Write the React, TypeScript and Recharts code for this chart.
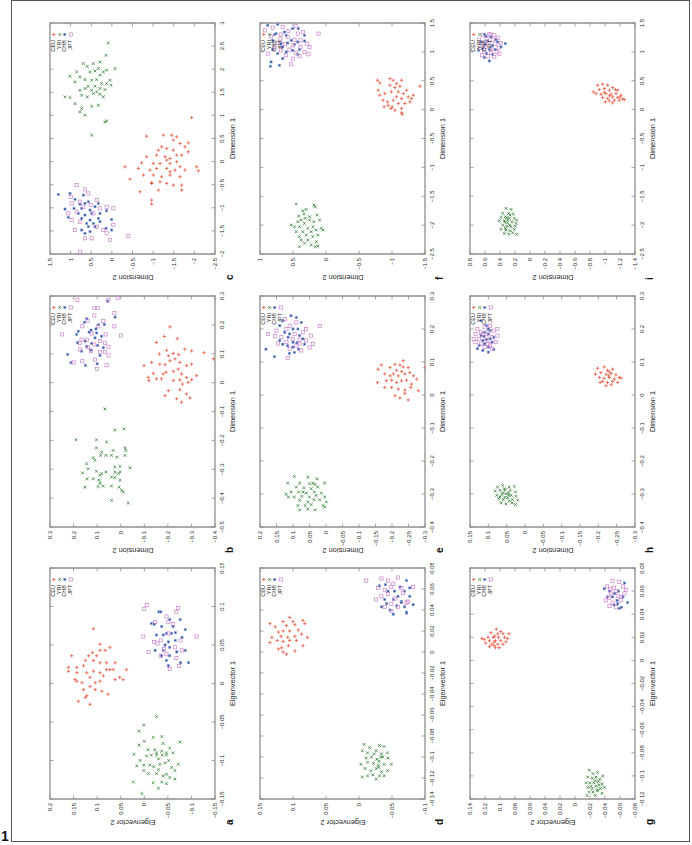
import React from "react";
import { ScatterChart, Scatter, XAxis, YAxis, ReferenceArea } from "recharts";

type Pt = [number, number];

// each point is [dimension 1 / eigenvector 1, dimension 2 / eigenvector 2]

// panel a
const aXTicks = [-0.15, -0.1, -0.05, 0, 0.05, 0.1, 0.15];
const aYTicks = [-0.15, -0.1, -0.05, 0, 0.05, 0.1, 0.15, 0.2];
const aCEU: Pt[] = [[0.071,0.108],[0.051,0.094],[0.047,0.073],[0.036,0.154],[0.036,0.118],[0.036,0.101],[0.043,0.094],[0.043,0.083],[0.027,0.062],[0.021,0.161],[0.021,0.143],[0.023,0.129],[0.03,0.108],[0.027,0.094],[0.027,0.08],[0.008,0.052],[0.018,0.038],[0.014,0.143],[0.014,0.122],[0.016,0.108],[0.014,0.094],[0.018,0.08],[0.018,0.066],[0.001,0.132],[0.008,0.115],[0.001,0.104],[0.003,0.094],[0.01,0.087],[0.003,0.143],[-0.008,0.129],[-0.004,0.115],[-0.008,0.104],[0.005,0.147],[0.005,0.062],[0.005,0.045],[-0.016,0.122],[-0.018,0.125],[-0.014,0.077],[-0.023,0.14],[-0.027,0.115],[0.018,0.073],[0.016,0.161],[0.03,0.125],[-0.01,0.09],[0.04,0.11]];
const aYRI: Pt[] = [[-0.043,-0.026],[-0.054,0.001],[-0.062,0.011],[-0.075,0.0],[-0.07,-0.019],[-0.069,-0.037],[-0.078,-0.04],[-0.076,-0.076],[-0.08,0.011],[-0.086,-0.008],[-0.086,-0.022],[-0.09,-0.026],[-0.088,-0.037],[-0.09,-0.047],[-0.084,-0.054],[-0.092,0.022],[-0.1,0.009],[-0.094,-0.005],[-0.093,-0.015],[-0.093,-0.026],[-0.093,-0.038],[-0.093,-0.047],[-0.09,-0.061],[-0.105,-0.072],[-0.107,0.016],[-0.106,0.001],[-0.106,-0.012],[-0.108,-0.02],[-0.105,-0.033],[-0.103,-0.044],[-0.109,-0.058],[-0.113,0.001],[-0.117,-0.009],[-0.117,-0.026],[-0.118,-0.047],[-0.122,-0.054],[-0.113,-0.065],[-0.128,0.023],[-0.129,-0.019],[-0.128,-0.037],[-0.13,-0.047],[-0.143,0.005],[-0.124,-0.065],[-0.098,-0.03],[-0.112,-0.03],[-0.1,-0.052],[-0.12,-0.04],[-0.136,-0.03]];
const aCHB: Pt[] = [[0.093,-0.031],[0.093,-0.035],[0.078,-0.015],[0.077,-0.021],[0.074,-0.037],[0.083,-0.054],[0.074,-0.061],[0.083,-0.076],[0.07,-0.087],[0.066,-0.066],[0.065,-0.047],[0.065,-0.058],[0.063,-0.026],[0.063,-0.04],[0.06,-0.08],[0.056,-0.066],[0.054,-0.051],[0.043,-0.023],[0.043,-0.04],[0.047,-0.054],[0.043,-0.087],[0.041,-0.069],[0.036,-0.037],[0.036,-0.054],[0.03,-0.047],[0.027,-0.077],[0.027,-0.094],[0.023,-0.051],[0.05,-0.044]];
const aJPT: Pt[] = [[0.102,-0.005],[0.098,-0.072],[0.097,0.0],[0.093,-0.068],[0.087,-0.047],[0.061,-0.111],[0.08,-0.051],[0.061,0.002],[0.041,-0.009],[0.077,-0.061],[0.065,-0.051],[0.056,-0.035],[0.052,-0.028],[0.045,-0.042],[0.056,-0.077],[0.038,-0.047],[0.047,-0.065],[0.033,-0.068],[0.043,-0.08],[0.023,-0.074],[0.019,-0.054],[0.036,-0.035],[0.054,-0.021],[0.08,-0.023]];

// panel b
const bXTicks = [-0.5, -0.4, -0.3, -0.2, -0.1, 0, 0.1, 0.2, 0.3];
const bYTicks = [-0.4, -0.3, -0.2, -0.1, 0, 0.1, 0.2, 0.3];
const bCEU: Pt[] = [[0.139,-0.152],[0.112,-0.195],[0.101,-0.223],[0.097,-0.246],[0.116,-0.272],[0.11,-0.301],[0.099,-0.164],[0.093,-0.202],[0.064,-0.166],[0.062,-0.188],[0.076,-0.209],[0.082,-0.23],[0.07,-0.251],[0.059,-0.279],[0.064,-0.301],[0.104,-0.353],[0.082,-0.393],[0.059,-0.099],[0.07,-0.131],[0.018,-0.117],[0.007,-0.12],[0.013,-0.152],[0.03,-0.18],[0.036,-0.192],[0.039,-0.223],[0.047,-0.244],[0.03,-0.258],[0.018,-0.279],[0.007,-0.223],[0.009,-0.251],[-0.005,-0.262],[0.001,-0.286],[0.01,-0.301],[0.024,-0.322],[-0.025,-0.251],[-0.028,-0.202],[-0.039,-0.279],[-0.056,-0.237],[-0.068,-0.258],[-0.053,-0.294],[-0.045,-0.188],[0.013,-0.173],[0.032,-0.138],[0.193,-0.209],[0.16,-0.185],[0.152,-0.24]];
const bYRI: Pt[] = [[-0.091,0.067],[-0.16,-0.014],[-0.164,0.025],[-0.198,0.19],[-0.198,0.103],[-0.206,0.06],[-0.226,-0.018],[-0.235,-0.022],[-0.226,0.103],[-0.241,0.081],[-0.235,0.032],[-0.26,0.117],[-0.252,0.085],[-0.252,0.063],[-0.252,0.039],[-0.258,0.017],[-0.252,-0.018],[-0.281,0.145],[-0.269,0.11],[-0.292,0.025],[-0.29,0.003],[-0.295,-0.039],[-0.313,0.162],[-0.298,0.138],[-0.307,0.103],[-0.315,0.081],[-0.31,0.063],[-0.31,0.025],[-0.315,0.01],[-0.31,0.003],[-0.333,0.142],[-0.333,0.117],[-0.321,0.088],[-0.327,0.039],[-0.329,0.025],[-0.338,0.003],[-0.362,0.152],[-0.338,0.092],[-0.348,0.088],[-0.358,0.074],[-0.358,0.039],[-0.362,0.007],[-0.373,-0.004],[-0.36,0.096],[-0.379,-0.011],[-0.408,0.039],[-0.417,-0.032]];
const bCHB: Pt[] = [[0.282,0.055],[0.227,0.024],[0.221,0.144],[0.209,0.154],[0.201,0.095],[0.201,0.07],[0.182,0.126],[0.186,0.105],[0.178,0.18],[0.175,0.134],[0.172,0.102],[0.167,0.187],[0.161,0.081],[0.155,0.109],[0.144,0.151],[0.138,0.183],[0.136,0.123],[0.129,0.098],[0.126,0.144],[0.121,0.074],[0.113,0.126],[0.098,0.225],[0.109,0.166],[0.094,0.088],[0.069,0.211],[0.065,0.1],[0.06,0.15]];
const bJPT: Pt[] = [[0.287,0.184],[0.287,0.052],[0.293,0.013],[0.259,0.112],[0.259,0.098],[0.241,0.027],[0.232,0.112],[0.215,0.14],[0.213,0.074],[0.195,0.163],[0.195,0.095],[0.195,0.027],[0.167,0.25],[0.17,0.123],[0.167,0.064],[0.163,-0.001],[0.149,0.166],[0.149,0.144],[0.144,0.088],[0.138,0.173],[0.132,0.112],[0.138,0.067],[0.123,0.14],[0.124,0.052],[0.109,0.126],[0.106,0.088],[0.106,0.067],[0.115,0.173],[0.094,0.052],[0.08,0.109],[0.074,0.163],[0.07,0.2],[0.047,0.1],[0.06,0.06]];

// panel c
const cXTicks = [-2, -1.5, -1, -0.5, 0, 0.5, 1, 1.5, 2, 2.5, 3];
const cYTicks = [-2.5, -2, -1.5, -1, -0.5, 0, 0.5, 1, 1.5];
const cCEU: Pt[] = [[0.954,-1.934],[0.55,-0.843],[0.572,-1.247],[0.572,-1.45],[0.536,-1.571],[0.32,-1.207],[0.464,-1.49],[0.406,-1.853],[0.392,-1.652],[0.248,-1.126],[0.284,-1.328],[0.248,-1.49],[0.14,-1.571],[0.068,-1.409],[0.14,-1.692],[0.32,-1.773],[0.212,-1.853],[0.104,-0.843],[0.14,-1.086],[0.104,-1.288],[-0.026,-0.722],[-0.04,-1.005],[-0.04,-1.167],[-0.04,-1.409],[-0.004,-1.571],[-0.112,-1.652],[-0.112,-2.056],[-0.199,-2.096],[-0.112,-0.318],[-0.148,-0.641],[-0.184,-0.924],[-0.148,-1.086],[-0.148,-1.328],[-0.184,-1.53],[-0.184,-1.773],[-0.379,-0.439],[-0.292,-0.763],[-0.292,-1.005],[-0.329,-1.207],[-0.292,-1.409],[-0.329,-1.652],[-0.473,-0.965],[-0.437,-1.167],[-0.473,-1.328],[-0.509,-1.49],[-0.509,-1.692],[-0.653,-0.682],[-0.458,-0.965],[-0.617,-1.126],[-0.617,-1.692],[-0.833,-0.965],[-0.919,-0.965],[-0.22,-1.409],[0.032,-1.328]];
const cYRI: Pt[] = [[2.568,0.086],[2.122,0.692],[2.063,0.595],[2.122,0.45],[2.157,0.288],[2.301,0.142],[2.014,0.328],[2.014,-0.076],[1.942,0.854],[1.847,1.015],[1.833,0.773],[1.942,0.53],[1.963,0.409],[1.942,0.207],[1.978,0.126],[1.775,0.652],[1.761,0.49],[1.775,0.369],[1.87,0.288],[1.761,0.045],[1.725,0.894],[1.631,0.571],[1.631,0.409],[1.689,0.247],[1.689,0.126],[1.653,0.021],[1.545,0.773],[1.582,0.652],[1.545,0.49],[1.582,0.288],[1.559,0.167],[1.401,1.136],[1.386,1.015],[1.437,0.732],[1.401,0.595],[1.473,0.45],[1.458,0.288],[1.256,0.894],[1.148,0.732],[1.199,0.49],[1.221,0.328],[1.076,0.773],[1.004,0.652],[0.882,0.126],[0.86,0.167],[0.572,0.49],[1.509,0.369],[1.401,0.207]];
const cCHB: Pt[] = [[-0.71,1.298],[-0.689,1.015],[-0.818,0.894],[-0.725,0.692],[-0.919,0.773],[-0.905,0.652],[-0.869,0.571],[-1.027,1.136],[-1.013,0.918],[-1.013,0.732],[-1.049,0.53],[-0.977,0.409],[-0.905,0.328],[-1.121,0.813],[-1.157,0.652],[-1.121,0.49],[-1.121,0.288],[-1.063,0.126],[-1.207,1.056],[-1.229,0.732],[-1.265,0.53],[-1.229,0.328],[-1.251,0.005],[-1.337,0.611],[-1.337,0.45],[-1.301,0.288],[-1.445,0.142],[-1.481,0.732],[-1.409,0.571],[-1.409,0.409],[-1.517,0.53],[-1.553,0.652],[-1.481,0.005]];
const cJPT: Pt[] = [[-0.509,0.854],[-0.602,0.652],[-0.689,0.571],[-0.761,0.999],[-0.869,0.773],[-0.833,0.369],[-0.941,0.514],[-0.977,0.692],[-1.013,0.288],[-0.977,0.126],[-1.085,0.854],[-1.121,0.45],[-1.013,-0.035],[-1.265,0.975],[-1.301,0.773],[-1.409,0.369],[-1.481,0.207],[-1.373,-0.035],[-1.481,0.894],[-1.661,0.652],[-1.661,0.49],[-1.553,0.126],[-1.697,0.045],[-1.604,-0.399],[-1.95,0.773],[-0.905,0.975],[-1.121,1.056]];

// panel d
const dXTicks = [-0.14, -0.12, -0.1, -0.08, -0.06, -0.04, -0.02, 0, 0.02, 0.04, 0.06, 0.08];
const dYTicks = [-0.1, -0.05, 0, 0.05, 0.1, 0.15];
const dCEU: Pt[] = [[0.033,0.105],[0.027,0.135],[0.029,0.115],[0.029,0.1],[0.03,0.085],[0.024,0.127],[0.025,0.11],[0.026,0.097],[0.027,0.082],[0.019,0.122],[0.02,0.115],[0.02,0.105],[0.021,0.092],[0.014,0.132],[0.015,0.118],[0.014,0.108],[0.015,0.097],[0.017,0.087],[0.014,0.078],[0.011,0.124],[0.01,0.115],[0.011,0.105],[0.011,0.095],[0.009,0.135],[0.004,0.117],[0.006,0.107],[0.001,0.097],[0.006,0.085],[0.0,0.115],[-0.002,0.11],[0.003,0.122]];
const dYRI: Pt[] = [[-0.088,-0.008],[-0.091,-0.016],[-0.089,-0.031],[-0.09,-0.038],[-0.094,-0.005],[-0.096,-0.013],[-0.094,-0.026],[-0.097,-0.034],[-0.096,-0.043],[-0.101,-0.011],[-0.1,-0.019],[-0.102,-0.027],[-0.1,-0.036],[-0.101,-0.044],[-0.107,-0.003],[-0.105,-0.013],[-0.106,-0.022],[-0.108,-0.029],[-0.107,-0.038],[-0.107,-0.049],[-0.111,-0.009],[-0.113,-0.018],[-0.111,-0.026],[-0.114,-0.034],[-0.113,-0.043],[-0.118,-0.013],[-0.117,-0.021],[-0.118,-0.031],[-0.118,-0.038],[-0.119,-0.005],[-0.121,-0.026],[-0.1,-0.033],[-0.097,-0.023],[-0.104,-0.03],[-0.11,-0.03]];
const dCHB: Pt[] = [[0.063,-0.031],[0.064,-0.04],[0.058,-0.054],[0.062,-0.062],[0.068,-0.072],[0.058,-0.044],[0.053,-0.059],[0.058,-0.069],[0.061,-0.077],[0.05,-0.039],[0.05,-0.052],[0.048,-0.064],[0.053,-0.077],[0.043,-0.034],[0.04,-0.047],[0.043,-0.069],[0.045,-0.082],[0.038,-0.072],[0.046,-0.042],[0.044,-0.057],[0.047,-0.064],[0.037,-0.072],[0.036,-0.052]];
const dJPT: Pt[] = [[0.068,-0.011],[0.07,-0.034],[0.068,-0.044],[0.065,-0.052],[0.071,-0.059],[0.061,-0.029],[0.059,-0.039],[0.062,-0.049],[0.061,-0.064],[0.053,-0.034],[0.055,-0.044],[0.051,-0.054],[0.056,-0.067],[0.05,-0.026],[0.046,-0.049],[0.043,-0.039],[0.048,-0.074],[0.043,-0.059],[0.062,-0.082],[0.039,-0.049],[0.047,-0.072]];

// panel e
const eXTicks = [-0.4, -0.3, -0.2, -0.1, 0, 0.1, 0.2, 0.3];
const eYTicks = [-0.3, -0.25, -0.2, -0.15, -0.1, -0.05, 0, 0.05, 0.1, 0.15, 0.2];
const eCEU: Pt[] = [[0.091,-0.168],[0.078,-0.158],[0.064,-0.178],[0.083,-0.194],[0.093,-0.209],[0.091,-0.224],[0.085,-0.234],[0.083,-0.249],[0.075,-0.214],[0.071,-0.229],[0.064,-0.204],[0.058,-0.219],[0.064,-0.239],[0.068,-0.254],[0.058,-0.265],[0.038,-0.156],[0.043,-0.183],[0.045,-0.199],[0.038,-0.214],[0.043,-0.229],[0.045,-0.244],[0.033,-0.259],[0.048,-0.275],[0.023,-0.178],[0.023,-0.199],[0.018,-0.219],[0.015,-0.239],[0.023,-0.257],[-0.002,-0.209],[-0.009,-0.224],[-0.015,-0.249],[0.005,-0.239],[0.013,-0.28],[0.083,-0.3],[0.104,-0.234],[0.058,-0.194]];
const eYRI: Pt[] = [[-0.247,0.096],[-0.249,0.055],[-0.254,0.027],[-0.267,0.116],[-0.267,0.08],[-0.267,0.04],[-0.271,0.033],[-0.267,0.004],[-0.279,0.09],[-0.281,0.067],[-0.284,0.045],[-0.279,0.025],[-0.294,0.106],[-0.294,0.083],[-0.297,0.06],[-0.294,0.035],[-0.297,0.014],[-0.301,0.121],[-0.309,0.096],[-0.307,0.073],[-0.309,0.05],[-0.304,0.03],[-0.309,0.004],[-0.309,0.114],[-0.319,0.08],[-0.324,0.055],[-0.317,0.037],[-0.317,0.019],[-0.324,-0.001],[-0.335,0.085],[-0.335,0.063],[-0.332,0.045],[-0.335,0.009],[-0.348,0.08],[-0.345,0.055],[-0.348,0.033],[-0.34,0.004],[-0.294,0.07],[-0.269,0.05]];
const eCHB: Pt[] = [[0.139,0.182],[0.116,0.156],[0.154,0.131],[0.149,0.116],[0.129,0.096],[0.139,0.083],[0.154,0.065],[0.126,0.111],[0.24,0.106],[0.225,0.13],[0.21,0.14],[0.2,0.1],[0.19,0.125],[0.18,0.08],[0.175,0.115],[0.165,0.14],[0.16,0.1],[0.17,0.07],[0.145,0.1],[0.22,0.075],[0.185,0.11],[0.2,0.085],[0.235,0.09],[0.158,0.088]];
const eJPT: Pt[] = [[0.156,0.146],[0.144,0.05],[0.112,0.116],[0.156,0.08],[0.185,0.176],[0.209,0.019],[0.22,0.09],[0.2,0.12],[0.19,0.07],[0.175,0.135],[0.17,0.1],[0.165,0.06],[0.18,0.045],[0.195,0.15],[0.16,0.12],[0.15,0.09],[0.135,0.075],[0.14,0.11],[0.2,0.06],[0.21,0.11],[0.185,0.095],[0.168,0.08],[0.155,0.04],[0.23,0.125],[0.178,0.155]];

// panel f
const fXTicks = [-2.5, -2, -1.5, -1, -0.5, 0, 0.5, 1, 1.5];
const fYTicks = [-1.5, -1, -0.5, 0, 0.5, 1];
const fCEU: Pt[] = [[0.509,-0.78],[0.463,-0.815],[0.336,-0.79],[0.163,-0.866],[0.134,-0.932],[0.278,-0.891],[0.537,-0.968],[0.509,-1.018],[0.451,-1.069],[0.509,-1.145],[0.422,-0.968],[0.382,-1.044],[0.405,-1.12],[0.307,-1.094],[0.307,-0.993],[0.278,-1.17],[0.221,-1.246],[0.192,-1.297],[0.221,-1.069],[0.192,-1.145],[0.163,-1.018],[0.076,-0.942],[0.048,-1.003],[0.105,-1.094],[0.105,-1.196],[0.134,-1.272],[-0.01,-1.044],[0.019,-1.145],[0.249,-1.323],[0.405,-1.424],[-0.056,-1.145],[-0.079,-1.155],[0.048,-0.881],[0.019,-0.983],[0.336,-1.221],[0.249,-0.815]];
const fYRI: Pt[] = [[-1.635,0.452],[-1.653,0.184],[-1.682,0.163],[-1.751,0.351],[-1.843,0.412],[-1.728,0.3],[-1.826,0.133],[-1.999,0.528],[-2.027,0.478],[-1.941,0.427],[-1.912,0.376],[-1.883,0.315],[-1.912,0.249],[-1.941,0.184],[-1.912,0.097],[-2.027,0.402],[-1.97,0.326],[-2.056,0.275],[-2.027,0.199],[-2.085,0.148],[-2.056,0.072],[-2.114,0.452],[-2.114,0.351],[-2.114,0.224],[-2.171,0.123],[-2.085,0.047],[-2.2,0.402],[-2.171,0.3],[-2.2,0.199],[-2.258,0.376],[-2.258,0.275],[-2.287,0.148],[-2.316,0.326],[-2.344,0.224],[-2.362,0.123],[-2.373,0.402],[-2.373,0.163],[-1.854,0.249],[-1.808,0.336]];
const fCHB: Pt[] = [[1.46,0.883],[1.477,0.731],[1.344,0.63],[1.402,0.503],[1.402,0.417],[1.287,0.326],[1.316,0.757],[1.287,0.604],[1.2,0.528],[1.171,0.427],[1.189,0.326],[1.143,0.681],[1.154,0.579],[1.131,0.478],[1.2,0.807],[1.085,0.655],[1.027,0.503],[1.039,0.402],[1.039,0.807],[0.97,0.731],[0.999,0.604],[0.958,0.427],[0.883,0.655],[0.826,0.833],[0.768,0.706],[0.751,0.843]];
const fJPT: Pt[] = [[1.373,0.924],[1.419,0.807],[1.431,0.655],[1.361,0.569],[1.442,0.452],[1.316,0.427],[1.344,0.351],[1.316,0.113],[1.269,0.833],[1.229,0.691],[1.258,0.579],[1.212,0.478],[1.2,0.386],[1.143,0.285],[1.154,0.731],[1.131,0.62],[1.114,0.503],[1.085,0.386],[1.085,0.249],[1.027,0.681],[1.039,0.554],[0.981,0.452],[0.999,0.326],[0.958,0.265],[0.941,0.604],[0.883,0.503],[0.924,0.402],[0.785,0.528],[0.97,0.883],[1.085,0.782]];

// panel g
const gXTicks = [-0.12, -0.1, -0.08, -0.06, -0.04, -0.02, 0, 0.02, 0.04, 0.06, 0.08];
const gYTicks = [-0.08, -0.06, -0.04, -0.02, 0, 0.02, 0.04, 0.06, 0.08, 0.1, 0.12, 0.14];
const gCEU: Pt[] = [[0.027,0.105],[0.025,0.099],[0.024,0.112],[0.023,0.103],[0.023,0.096],[0.02,0.116],[0.02,0.109],[0.02,0.102],[0.02,0.094],[0.019,0.09],[0.018,0.121],[0.017,0.114],[0.017,0.106],[0.017,0.099],[0.016,0.092],[0.015,0.119],[0.014,0.111],[0.014,0.103],[0.014,0.096],[0.012,0.114],[0.011,0.106],[0.011,0.101],[0.019,0.124],[0.023,0.088],[0.021,0.107],[0.016,0.108],[0.013,0.108]];
const gYRI: Pt[] = [[-0.095,-0.019],[-0.098,-0.024],[-0.097,-0.03],[-0.101,-0.017],[-0.102,-0.023],[-0.101,-0.028],[-0.103,-0.033],[-0.1,-0.037],[-0.106,-0.015],[-0.106,-0.02],[-0.106,-0.025],[-0.105,-0.031],[-0.107,-0.036],[-0.11,-0.017],[-0.111,-0.023],[-0.109,-0.028],[-0.111,-0.034],[-0.11,-0.039],[-0.114,-0.019],[-0.114,-0.024],[-0.113,-0.03],[-0.115,-0.036],[-0.117,-0.016],[-0.117,-0.027],[-0.109,-0.021],[-0.108,-0.032],[-0.104,-0.027],[-0.112,-0.03]];
const gCHB: Pt[] = [[0.067,-0.066],[0.062,-0.039],[0.06,-0.046],[0.06,-0.058],[0.055,-0.064],[0.055,-0.05],[0.05,-0.07],[0.049,-0.057],[0.055,-0.043],[0.045,-0.059],[0.048,-0.052],[0.046,-0.062],[0.058,-0.053],[0.052,-0.056]];
const gJPT: Pt[] = [[0.069,-0.05],[0.068,-0.059],[0.064,-0.043],[0.063,-0.052],[0.064,-0.064],[0.061,-0.068],[0.058,-0.048],[0.056,-0.057],[0.058,-0.066],[0.052,-0.041],[0.05,-0.05],[0.052,-0.061],[0.046,-0.055],[0.047,-0.046],[0.06,-0.055],[0.054,-0.045],[0.055,-0.062],[0.062,-0.047]];

// panel h
const hXTicks = [-0.4, -0.3, -0.2, -0.1, 0, 0.1, 0.2, 0.3];
const hYTicks = [-0.3, -0.25, -0.2, -0.15, -0.1, -0.05, 0, 0.05, 0.1, 0.15];
const hCEU: Pt[] = [[0.081,-0.198],[0.085,-0.216],[0.075,-0.225],[0.078,-0.239],[0.063,-0.192],[0.068,-0.207],[0.063,-0.221],[0.065,-0.235],[0.061,-0.248],[0.053,-0.203],[0.051,-0.216],[0.053,-0.23],[0.048,-0.244],[0.053,-0.257],[0.041,-0.212],[0.038,-0.225],[0.041,-0.239],[0.038,-0.253],[0.028,-0.221],[0.031,-0.235],[0.038,-0.205],[0.051,-0.262],[0.058,-0.228],[0.07,-0.23]];
const hYRI: Pt[] = [[-0.279,0.075],[-0.274,0.061],[-0.279,0.043],[-0.277,0.029],[-0.291,0.081],[-0.289,0.068],[-0.287,0.054],[-0.289,0.041],[-0.294,0.026],[-0.304,0.077],[-0.301,0.063],[-0.299,0.052],[-0.304,0.038],[-0.307,0.025],[-0.314,0.072],[-0.317,0.059],[-0.311,0.047],[-0.317,0.034],[-0.319,0.02],[-0.327,0.065],[-0.33,0.052],[-0.327,0.035],[-0.332,0.026],[-0.284,0.056],[-0.297,0.045],[-0.309,0.068],[-0.321,0.043],[-0.296,0.06],[-0.31,0.055],[-0.303,0.045]];
const hCHB: Pt[] = [[0.225,0.12],[0.21,0.105],[0.195,0.095],[0.185,0.1],[0.18,0.12],[0.17,0.095],[0.165,0.115],[0.16,0.09],[0.15,0.125],[0.145,0.1],[0.14,0.13],[0.135,0.115],[0.175,0.085],[0.19,0.11],[0.155,0.11],[0.168,0.105],[0.2,0.1],[0.178,0.112],[0.138,0.085],[0.13,0.1]];
const hJPT: Pt[] = [[0.2,0.13],[0.19,0.1],[0.185,0.115],[0.175,0.09],[0.17,0.125],[0.165,0.105],[0.16,0.08],[0.155,0.12],[0.15,0.095],[0.18,0.075],[0.195,0.085],[0.205,0.11],[0.145,0.11],[0.17,0.14],[0.185,0.135],[0.21,0.095],[0.16,0.135],[0.175,0.105],[0.14,0.09],[0.19,0.12],[0.155,0.1],[0.2,0.075]];

// panel i
const iXTicks = [-2.5, -2, -1.5, -1, -0.5, 0, 0.5, 1, 1.5];
const iYTicks = [-1.4, -1.2, -1, -0.8, -0.6, -0.4, -0.2, 0, 0.2, 0.4, 0.6, 0.8];
const iCEU: Pt[] = [[0.422,-0.902],[0.439,-0.969],[0.422,-1.036],[0.382,-1.102],[0.307,-0.844],[0.347,-0.924],[0.365,-0.991],[0.336,-1.058],[0.347,-1.138],[0.267,-0.947],[0.278,-1.013],[0.267,-1.08],[0.278,-1.147],[0.249,-1.213],[0.209,-0.969],[0.192,-1.036],[0.221,-1.102],[0.209,-1.169],[0.186,-1.236],[0.174,-1.258],[0.151,-1.058],[0.163,-1.124],[0.163,-1.191],[0.117,-1.102],[0.134,-1.004],[0.278,-0.88],[0.336,-1.169],[0.221,-1.2],[0.3,-0.99],[0.24,-1.06]];
const iYRI: Pt[] = [[-1.71,0.32],[-1.728,0.253],[-1.797,0.364],[-1.797,0.284],[-1.808,0.222],[-1.866,0.387],[-1.854,0.329],[-1.883,0.276],[-1.883,0.209],[-1.912,0.178],[-1.924,0.409],[-1.924,0.342],[-1.958,0.298],[-1.941,0.24],[-1.97,0.187],[-1.999,0.364],[-2.016,0.311],[-2.027,0.253],[-2.016,0.196],[-2.073,0.387],[-2.085,0.32],[-2.097,0.267],[-2.073,0.209],[-2.143,0.342],[-2.154,0.284],[-2.16,0.178],[-2.131,0.231],[-1.912,0.298],[-1.826,0.267],[-2.056,0.329],[-1.95,0.33],[-1.87,0.31],[-2.0,0.27]];
const iCHB: Pt[] = [[1.269,0.587],[1.258,0.52],[1.171,0.653],[1.189,0.564],[1.131,0.596],[1.114,0.498],[1.171,0.431],[1.143,0.329],[1.056,0.631],[1.039,0.542],[1.039,0.462],[1.085,0.387],[0.97,0.578],[0.958,0.498],[1.027,0.684],[0.843,0.542],[0.901,0.609],[1.212,0.453]];
const iJPT: Pt[] = [[1.287,0.622],[1.304,0.542],[1.287,0.476],[1.212,0.676],[1.229,0.578],[1.212,0.498],[1.246,0.431],[1.143,0.631],[1.154,0.551],[1.143,0.462],[1.154,0.387],[1.074,0.667],[1.085,0.587],[1.056,0.507],[1.074,0.418],[0.999,0.609],[0.981,0.52],[0.999,0.444],[0.924,0.564],[0.912,0.476],[0.941,0.64],[0.97,0.409]];

const FONT = '"Liberation Sans", Arial, Helvetica, sans-serif';
const RED = "#e4513c";
const GREEN = "#2c7a2e";
const BLUE = "#2b4b9b";
const PINK = "#c47ac6";
const BOX = "#8e8e8e";
const INK = "#2a2a2a";

// each panel is drawn landscape, then turned a quarter turn to the left
const W = 276;
const H = 210;
const PL = 40;
const PR = 271;
const PT = 5;
const PB = 170;

const fmt = (v: number) => (v < 0 ? "\u2212" + String(-v) : String(v));

const plus = (p: any) => (
  <path d={`M${p.cx - 1.7} ${p.cy}h3.4M${p.cx} ${p.cy - 1.7}v3.4`} stroke={RED} strokeWidth={0.75} fill="none" />
);
const cross = (p: any) => (
  <path d={`M${p.cx - 1.4} ${p.cy - 1.4}l2.8 2.8M${p.cx - 1.4} ${p.cy + 1.4}l2.8 -2.8`} stroke={GREEN} strokeWidth={0.75} fill="none" />
);
const dot = (p: any) => (
  <rect x={p.cx - 1.1} y={p.cy - 1.1} width={2.2} height={2.2} fill={BLUE} stroke="#8ea6db" strokeWidth={0.55} />
);
const square = (p: any) => (
  <rect x={p.cx - 1.6} y={p.cy - 1.6} width={3.2} height={3.2} fill="none" stroke={PINK} strokeWidth={0.65} />
);

const SERIES = [
  { name: "CEU", shape: plus },
  { name: "YRI", shape: cross },
  { name: "CHB", shape: dot },
  { name: "JPT", shape: square },
];

const XTick = (props: any) => {
  const { x, payload } = props;
  return (
    <g>
      <line x1={x} x2={x} y1={PB} y2={PB - 3.5} stroke={BOX} strokeWidth={0.8} />
      <line x1={x} x2={x} y1={PT} y2={PT + 3.5} stroke={BOX} strokeWidth={0.8} />
      <text x={x} y={PB + 9} textAnchor="middle" fontSize={6} fill={INK}>
        {fmt(payload.value)}
      </text>
    </g>
  );
};

const YTick = (props: any) => {
  const { y, payload } = props;
  return (
    <g>
      <line x1={PL} x2={PL + 3.5} y1={y} y2={y} stroke={BOX} strokeWidth={0.8} />
      <line x1={PR} x2={PR - 3.5} y1={y} y2={y} stroke={BOX} strokeWidth={0.8} />
      <text x={PL - 4} y={y + 2.1} textAnchor="end" fontSize={6} fill={INK}>
        {fmt(payload.value)}
      </text>
    </g>
  );
};

interface PanelCfg {
  letter: string;
  xLabel: string;
  yLabel: string;
  xTicks: number[];
  yTicks: number[];
  data: Pt[][];
}

const EIG1 = "Eigenvector 1";
const EIG2 = "Eigenvector 2";
const DIM1 = "Dimension 1";
const DIM2 = "Dimension 2";

// grid position on the page: col, row
const PANELS: { cfg: PanelCfg; col: number; row: number }[] = [
  { col: 0, row: 2, cfg: { letter: "a", xLabel: EIG1, yLabel: EIG2, xTicks: aXTicks, yTicks: aYTicks, data: [aCEU, aYRI, aCHB, aJPT] } },
  { col: 0, row: 1, cfg: { letter: "b", xLabel: DIM1, yLabel: DIM2, xTicks: bXTicks, yTicks: bYTicks, data: [bCEU, bYRI, bCHB, bJPT] } },
  { col: 0, row: 0, cfg: { letter: "c", xLabel: DIM1, yLabel: DIM2, xTicks: cXTicks, yTicks: cYTicks, data: [cCEU, cYRI, cCHB, cJPT] } },
  { col: 1, row: 2, cfg: { letter: "d", xLabel: EIG1, yLabel: EIG2, xTicks: dXTicks, yTicks: dYTicks, data: [dCEU, dYRI, dCHB, dJPT] } },
  { col: 1, row: 1, cfg: { letter: "e", xLabel: DIM1, yLabel: DIM2, xTicks: eXTicks, yTicks: eYTicks, data: [eCEU, eYRI, eCHB, eJPT] } },
  { col: 1, row: 0, cfg: { letter: "f", xLabel: DIM1, yLabel: DIM2, xTicks: fXTicks, yTicks: fYTicks, data: [fCEU, fYRI, fCHB, fJPT] } },
  { col: 2, row: 2, cfg: { letter: "g", xLabel: EIG1, yLabel: EIG2, xTicks: gXTicks, yTicks: gYTicks, data: [gCEU, gYRI, gCHB, gJPT] } },
  { col: 2, row: 1, cfg: { letter: "h", xLabel: DIM1, yLabel: DIM2, xTicks: hXTicks, yTicks: hYTicks, data: [hCEU, hYRI, hCHB, hJPT] } },
  { col: 2, row: 0, cfg: { letter: "i", xLabel: DIM1, yLabel: DIM2, xTicks: iXTicks, yTicks: iYTicks, data: [iCEU, iYRI, iCHB, iJPT] } },
];

const COL_X = [45, 255, 465];
const ROW_Y = [17.7, 290.5, 563.3];

function Panel({ cfg, left, top }: { cfg: PanelCfg; left: number; top: number }) {
  const xd: [number, number] = [cfg.xTicks[0], cfg.xTicks[cfg.xTicks.length - 1]];
  const yd: [number, number] = [cfg.yTicks[0], cfg.yTicks[cfg.yTicks.length - 1]];
  return (
    <div
      style={{
        position: "absolute",
        left,
        top: top + W,
        width: W,
        height: H,
        transform: "rotate(-90deg)",
        transformOrigin: "0 0",
        fontFamily: FONT,
        color: INK,
      }}
    >
      <ScatterChart width={W} height={H} margin={{ top: PT, right: W - PR, bottom: 0, left: 0 }}>
        <XAxis
          type="number"
          dataKey="x"
          domain={xd}
          ticks={cfg.xTicks}
          interval={0}
          height={H - PB}
          allowDataOverflow
          axisLine={false}
          tickLine={false}
          tick={XTick}
        />
        <YAxis
          type="number"
          dataKey="y"
          domain={yd}
          ticks={cfg.yTicks}
          interval={0}
          width={PL}
          allowDataOverflow
          axisLine={false}
          tickLine={false}
          tick={YTick}
        />
        <ReferenceArea
          x1={xd[0]}
          x2={xd[1]}
          y1={yd[0]}
          y2={yd[1]}
          fill="none"
          stroke={BOX}
          strokeWidth={1.3}
          ifOverflow="visible"
        />
        {SERIES.map((s, k) => (
          <Scatter
            key={s.name}
            name={s.name}
            data={cfg.data[k].map(([x, y]) => ({ x, y }))}
            shape={s.shape}
            isAnimationActive={false}
          />
        ))}
      </ScatterChart>

      {/* legend, top right of the plot */}
      <div style={{ position: "absolute", left: 215, top: 6.2, width: 48 }}>
        {SERIES.map((s) => (
          <div
            key={s.name}
            style={{ display: "flex", justifyContent: "flex-end", alignItems: "center", height: 5.5 }}
          >
            <span style={{ fontSize: 5.5, lineHeight: "5.5px", marginRight: 2 }}>{s.name}</span>
            <svg width={7} height={5.5} style={{ display: "block" }}>
              {s.shape({ cx: 3.5, cy: 2.75 })}
            </svg>
          </div>
        ))}
      </div>

      <div
        style={{
          position: "absolute",
          left: PL,
          width: PR - PL,
          top: 183,
          textAlign: "center",
          fontSize: 7.4,
          lineHeight: "9px",
          whiteSpace: "nowrap",
        }}
      >
        {cfg.xLabel}
      </div>
      <div
        style={{
          position: "absolute",
          left: 17,
          top: (PT + PB) / 2,
          transform: "translate(-50%, -50%) rotate(-90deg)",
          fontSize: 7.4,
          lineHeight: "9px",
          whiteSpace: "nowrap",
        }}
      >
        {cfg.yLabel}
      </div>
      <div
        style={{
          position: "absolute",
          left: 14,
          top: 180,
          fontSize: 10,
          lineHeight: "10px",
          fontWeight: "bold",
          color: "#111",
        }}
      >
        {cfg.letter}
      </div>
    </div>
  );
}

export default function App() {
  return (
    <div
      style={{
        position: "absolute",
        left: 0,
        top: 0,
        width: 692,
        height: 845,
        background: "#fff",
        overflow: "hidden",
        fontFamily: FONT,
      }}
    >
      <div
        style={{
          position: "absolute",
          left: 11,
          top: 0,
          width: 679,
          height: 842,
          border: "1px solid #555",
          boxSizing: "border-box",
        }}
      />
      {PANELS.map((p) => (
        <Panel key={p.cfg.letter} cfg={p.cfg} left={COL_X[p.col]} top={ROW_Y[p.row]} />
      ))}
      <div
        style={{
          position: "absolute",
          left: 1,
          top: 829,
          fontSize: 14,
          lineHeight: "14px",
          fontWeight: "bold",
          color: "#111",
        }}
      >
        1
      </div>
    </div>
  );
}
